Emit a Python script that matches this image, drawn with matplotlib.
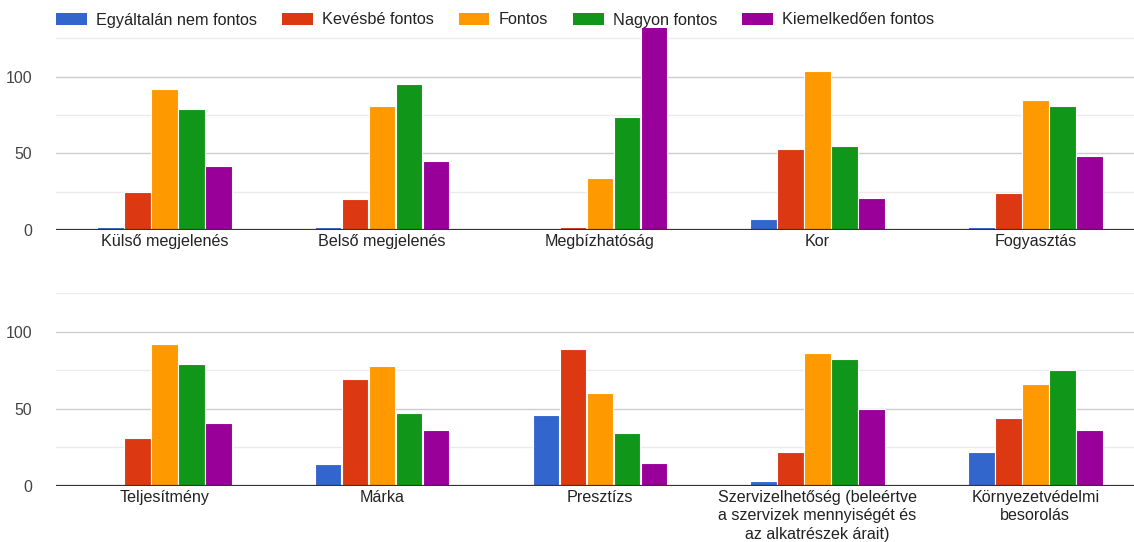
"""
Grouped bar chart of importance ratings, wrapped into two rows.
"""

import matplotlib.pyplot as plt
from matplotlib.patches import Patch
import numpy as np

plt.rcParams['font.family'] = ['Liberation Sans', 'DejaVu Sans']

series = ["Egyáltalán nem fontos", "Kevésbé fontos", "Fontos",
          "Nagyon fontos", "Kiemelkedően fontos"]
colors = ["#3366cc", "#dc3912", "#ff9900", "#109618", "#990099"]

cats_top = ["Külső megjelenés", "Belső megjelenés", "Megbízhatóság", "Kor", "Fogyasztás"]
cats_bottom = ["Teljesítmény", "Márka", "Presztízs",
               "Szervizelhetőség (beleértve\na szervizek mennyiségét és\naz alkatrészek árait)",
               "Környezetvédelmi\nbesorolás"]

# values per series (rows) for each category (columns)
vals_top = [
    [2, 2, 1, 7, 2],
    [25, 20, 2, 53, 24],
    [92, 81, 34, 104, 85],
    [79, 95, 74, 55, 81],
    [42, 45, 136, 21, 48],
]
vals_bottom = [
    [1, 14, 46, 3, 22],
    [31, 69, 89, 22, 44],
    [92, 78, 60, 86, 66],
    [79, 47, 34, 82, 75],
    [41, 36, 15, 50, 36],
]

W, H = 1134, 542
fig = plt.figure(figsize=(W / 100, H / 100), dpi=100)
# plot area runs slightly past the right edge, as in the cropped original
left, width = 55.6 / W, 1088.5 / W
ax_top = fig.add_axes([left, 1 - 230 / H, width, 202.4 / H])
ax_bot = fig.add_axes([left, 1 - 485.7 / H, width, 203.3 / H])

slot = 0.124
bar_w = 0.122

for ax, cats, vals in [(ax_top, cats_top, vals_top), (ax_bot, cats_bottom, vals_bottom)]:
    x = np.arange(len(cats))
    for j, (name, col) in enumerate(zip(series, colors)):
        ax.bar(x + (j - 2) * slot, vals[j], bar_w, color=col,
               edgecolor="white", linewidth=0.8, zorder=3, label=name)
    ax.set_xlim(-0.5, len(cats) - 0.5)
    ax.set_ylim(0, 132)
    ax.set_yticks([0, 50, 100])
    ax.set_yticks([25, 75, 125], minor=True)
    ax.grid(True, axis="y", which="major", color="#cccccc", linewidth=1.0, zorder=0)
    ax.grid(True, axis="y", which="minor", color="#ebebeb", linewidth=1.0, zorder=0)
    ax.axhline(0, color="#333333", linewidth=1.6, zorder=4)
    ax.set_xticks(x)
    ax.set_xticklabels(cats, fontsize=11.6, color="#222222", linespacing=1.3,
                       verticalalignment="top")
    ax.tick_params(axis="x", length=0, pad=3)
    ax.tick_params(axis="y", which="both", length=0, labelsize=11.4,
                   labelcolor="#444444", pad=17)
    for s in ax.spines.values():
        s.set_visible(False)

handles = [Patch(facecolor=c, edgecolor="none", label=n) for n, c in zip(series, colors)]
fig.legend(handles=handles, loc="center left", bbox_to_anchor=(56 / W, 1 - 20 / H),
           ncol=5, frameon=False, fontsize=11.7, handlelength=1.9, handleheight=0.8,
           handletextpad=0.55, columnspacing=1.54, borderpad=0, borderaxespad=0,
           labelcolor="#222222")

fig.savefig("out.png", dpi=100)
